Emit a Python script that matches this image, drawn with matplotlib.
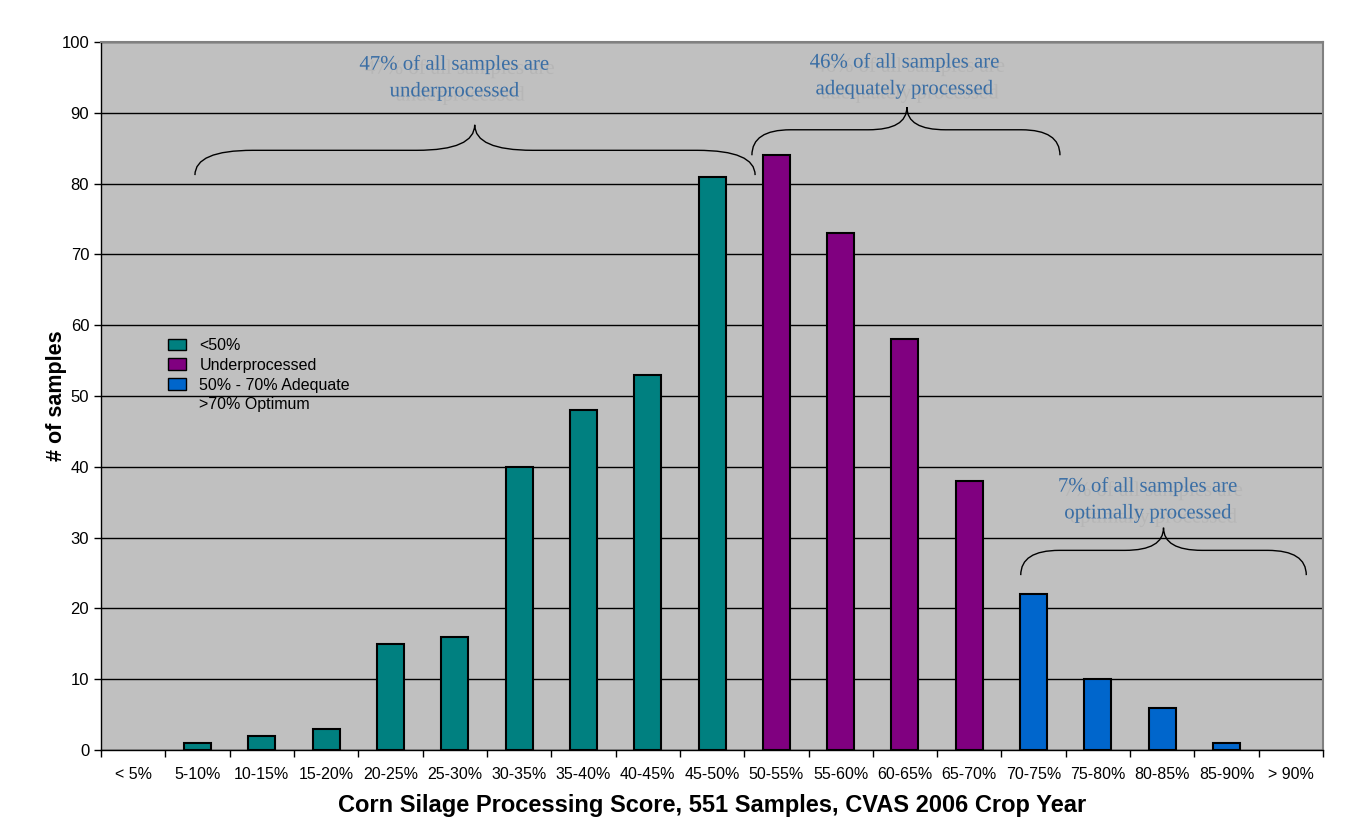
import matplotlib
matplotlib.use("Agg")
import matplotlib.pyplot as plt
import matplotlib.patheffects as pe
from matplotlib.patches import Patch, PathPatch
from matplotlib.path import Path

plt.rcParams['font.family'] = ['Liberation Sans', 'DejaVu Sans']

categories = ["< 5%", "5-10%", "10-15%", "15-20%", "20-25%", "25-30%", "30-35%",
              "35-40%", "40-45%", "45-50%", "50-55%", "55-60%", "60-65%", "65-70%",
              "70-75%", "75-80%", "80-85%", "85-90%", "> 90%"]
counts = [0, 1, 2, 3, 15, 16, 40, 48, 53, 81, 84, 73, 58, 38, 22, 10, 6, 1, 0]
groups = ["under"] * 10 + ["adequate"] * 4 + ["optimum"] * 5

group_colors = {"under": "#008080", "adequate": "#800080", "optimum": "#0066CC"}
legend_labels = ["<50%", "Underprocessed", "50% - 70% Adequate", ">70% Optimum"]

# brace annotations: (left x, right x, tip x, end y, flat y, tip y, text, text x, text y)
braces = [
    (0.96, 9.67, 5.31, 81.2, 84.7, 88.3, "47% of all samples are\nunderprocessed", 5.0, 94.9),
    (9.62, 14.41, 12.03, 84.0, 87.6, 90.8, "46% of all samples are\nadequately processed", 12.0, 95.2),
    (13.80, 18.24, 16.02, 24.7, 28.2, 31.4, "7% of all samples are\noptimally processed", 15.78, 35.3),
]

fig = plt.figure(figsize=(13.71, 8.33), dpi=100)
ax = fig.add_axes([0.0737, 0.0996, 0.8913, 0.85])
ax.set_facecolor('#C0C0C0')

x = list(range(len(categories)))
ax.bar(x, counts, width=0.42, color=[group_colors[g] for g in groups],
       edgecolor=['black' if c > 0 else 'none' for c in counts], linewidth=1.5, zorder=3)

ax.set_xlim(-0.5, len(categories) - 0.5)
ax.set_ylim(0, 100)
ax.set_yticks(range(0, 101, 10))
ax.yaxis.grid(True, color='black', linewidth=1, zorder=1)
ax.set_axisbelow(True)
ax.tick_params(axis='y', labelsize=12, length=5, width=1, direction='out')

ax.set_xticks(x)
ax.set_xticklabels(categories, fontsize=11.5)
ax.tick_params(axis='x', which='major', length=0, pad=12)
ax.set_xticks([i - 0.5 for i in range(len(categories) + 1)], minor=True)
ax.tick_params(axis='x', which='minor', length=5, width=1, direction='out')

for side in ['top', 'right']:
    ax.spines[side].set_color('#808080')
    ax.spines[side].set_linewidth(1.5)
for side in ['left', 'bottom']:
    ax.spines[side].set_color('black')
    ax.spines[side].set_linewidth(1)

ax.set_xlabel("Corn Silage Processing Score, 551 Samples, CVAS 2006 Crop Year",
              fontsize=17, fontweight='bold', labelpad=9)
ax.set_ylabel("# of samples", fontsize=15.5, fontweight='bold')
ax.yaxis.set_label_coords(-0.028, 0.5)

handles = [Patch(facecolor=group_colors["under"], edgecolor='black'),
           Patch(facecolor=group_colors["adequate"], edgecolor='black'),
           Patch(facecolor=group_colors["optimum"], edgecolor='black'),
           Patch(facecolor='none', edgecolor='none')]
ax.legend(handles, legend_labels, loc='upper left', bbox_to_anchor=(0.055, 0.582),
          frameon=False, fontsize=11.5, handlelength=1.1, handleheight=0.75,
          labelspacing=0.3, handletextpad=0.85, borderpad=0, borderaxespad=0)


def brace_path(xl, xr, xt, ye, yf, yt, dx):
    verts = [(xl, ye), (xl, yf), (xl + dx, yf),
             (xt - dx, yf),
             (xt, yf), (xt, yt),
             (xt, yf), (xt + dx, yf),
             (xr - dx, yf),
             (xr, yf), (xr, ye)]
    codes = [Path.MOVETO, Path.CURVE3, Path.CURVE3,
             Path.LINETO,
             Path.CURVE3, Path.CURVE3,
             Path.CURVE3, Path.CURVE3,
             Path.LINETO,
             Path.CURVE3, Path.CURVE3]
    return Path(verts, codes)


shadow = [pe.SimplePatchShadow(offset=(4, -3), shadow_rgbFace='#a0a0a0', alpha=0.3), pe.Normal()]
for i, (xl, xr, xt, ye, yf, yt, txt, tx, ty) in enumerate(braces):
    dx = 0.9 if i == 0 else 0.6
    ax.add_patch(PathPatch(brace_path(xl, xr, xt, ye, yf, yt, dx), facecolor='none',
                           edgecolor='black', linewidth=1, zorder=4))
    ax.text(tx, ty, txt, ha='center', va='center', fontsize=15, color='#3A6EA5',
            family=['Liberation Serif', 'DejaVu Serif'], linespacing=1.55,
            path_effects=shadow, zorder=5)

fig.savefig("out.png", dpi=100, facecolor='white')
